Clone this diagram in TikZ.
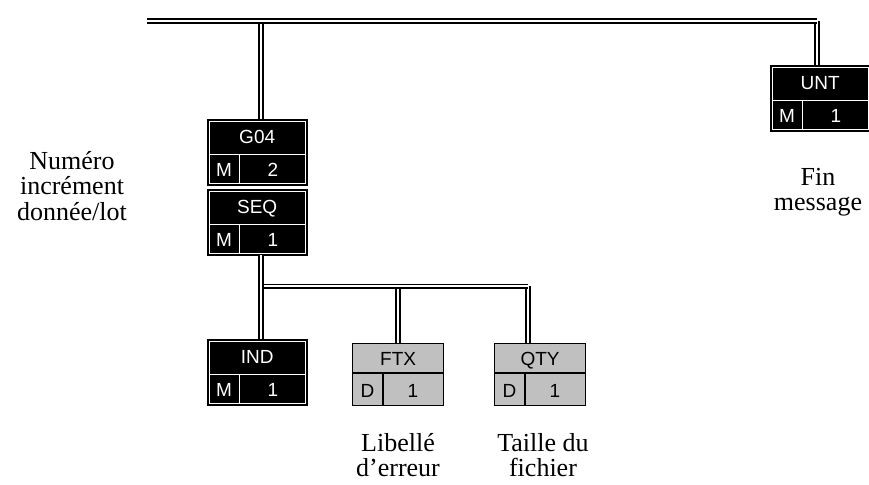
\documentclass[tikz,border=0pt]{standalone}
\usepackage{fontspec}
\setmainfont{Liberation Serif}
\setsansfont{Liberation Sans}
\usepackage{xcolor}
\usepackage{tikz}
\usetikzlibrary{positioning, calc}

\definecolor{segGray}{RGB}{192,192,192}

\tikzset{
    link/.style={line width=1.8pt, draw=black, double=white, double distance=2pt},
    mandbox/.style={draw=black, fill=black, minimum width=100pt, minimum height=66pt, inner sep=0pt, anchor=north west},
    condbox/.style={draw=black, line width=1.2pt, fill=segGray, minimum width=91pt, minimum height=62pt, inner sep=0pt, anchor=north west},
    lbl/.style={font=\sffamily\fontsize{19}{22}\selectfont, inner sep=0pt, text height=13.6pt, text depth=0pt},
    note/.style={align=center, font=\fontsize{26}{25.5}\selectfont, inner sep=0pt}
}

% segment obligatoire : nom, coin haut-gauche, code, repetition
\newcommand{\mandseg}[4]{%
    \node[mandbox] (#1) at (#2) {};
    \draw[white, line width=0.8pt] ($(#1.north west)+(2.5,2.5)$) rectangle ($(#1.south east)+(-2.5,-2.5)$);
    \draw[white, line width=0.8pt] ($(#1.north west)+(2.5,35)$) -- ($(#1.north east)+(-2.5,35)$);
    \draw[white, line width=0.8pt] ($(#1.north west)+(32,35)$) -- ($(#1.south west)+(32,-2.5)$);
    \node[lbl, text=white] at ($(#1.north)+(0,18)$) {#3};
    \node[lbl, text=white] at ($(#1.south west)+(17,-15.5)$) {M};
    \node[lbl, text=white] at ($(#1.south west)+(66,-15.5)$) {#4};
}

% segment conditionnel : nom, coin haut-gauche, code, repetition
\newcommand{\condseg}[4]{%
    \node[condbox] (#1) at (#2) {};
    \draw[line width=1.2pt] ($(#1.north west)+(0,30)$) -- ($(#1.north east)+(0,30)$);
    \draw[line width=1.2pt] ($(#1.north west)+(31,30)$) -- ($(#1.south west)+(31,0)$);
    \node[lbl] at ($(#1.north)+(0,15.5)$) {#3};
    \node[lbl] at ($(#1.south west)+(15.5,-16)$) {D};
    \node[lbl] at ($(#1.south west)+(61,-16)$) {#4};
}

\begin{document}
\begin{tikzpicture}[x=1pt, y=-1pt]
    \useasboundingbox (0,0) rectangle (869,484);

    % 1. Les segments
    \mandseg{g04}{207,119}{G04}{2}
    \mandseg{seq}{207,189}{SEQ}{1}
    \mandseg{ind}{207,339}{IND}{1}
    \mandseg{unt}{770,65}{UNT}{1}
    \condseg{ftx}{352,343}{FTX}{1}
    \condseg{qty}{494,343}{QTY}{1}

    % 2. Ligne principale
    \coordinate (busL) at (147,21);
    \coordinate (busR) at (817,21);
    \coordinate (g04top) at ($(g04.north)+(4,0)$);
    \draw[link] (busL -| g04top) -- (g04top);
    \draw[link] (busR) -- (busR |- unt.north);
    \draw[link] (busL) -- (busR);

    % 3. Groupe sous SEQ
    \coordinate (subL) at ($(seq.south -| g04top)+(0,31)$);
    \coordinate (ftxtop) at (ftx.north);
    \coordinate (qtytop) at ($(qty.north)+(-12,0)$);
    \draw[link] (ftxtop |- subL) -- (ftxtop);
    \draw[link] (qtytop |- subL) -- (qtytop);
    \draw[link] (subL) -- (qtytop |- subL);
    \draw[link] (seq.south -| g04top) -- (ind.north -| g04top);

    % 4. Libelles
    \node[note] (noteLot) at (72,186) {Numéro\\incrément\\donnée/lot};
    \node[note] (noteFin) at (818,192) {Fin\\message};
    \node[note] (noteErr) at (398,455) {Libellé\\d’erreur};
    \node[note] (noteSize) at (543,455) {Taille du\\fichier};
\end{tikzpicture}
\end{document}
